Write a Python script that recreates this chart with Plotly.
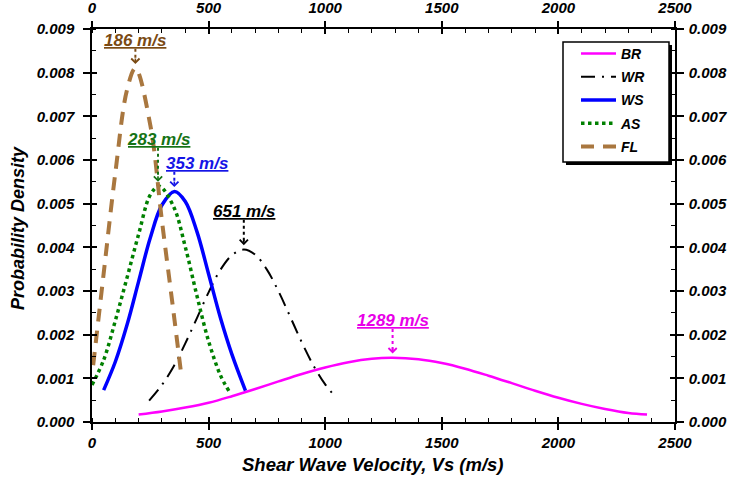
import plotly.graph_objects as go

# ---------------- data ----------------
br_x = [200, 300, 400, 500, 600, 700, 800, 900, 1000, 1100, 1200, 1289, 1400, 1500,
        1600, 1700, 1800, 1900, 2000, 2100, 2200, 2300, 2380]
br_y = [0.00017, 0.00024, 0.00033, 0.00044, 0.00059, 0.000755, 0.00093, 0.0011, 0.00125,
        0.00137, 0.001448, 0.00147, 0.001436, 0.00135, 0.00122, 0.00106, 0.00089, 0.000717,
        0.000556, 0.000415, 0.000298, 0.000206, 0.00017]

wr_x = [245, 300, 350, 400, 450, 500, 550, 600, 651, 700, 750, 800, 850, 900, 950, 1000, 1040]
wr_y = [0.00049, 0.00085, 0.00127, 0.0018, 0.00238, 0.00297, 0.00348, 0.00382, 0.00395,
        0.00383, 0.00349, 0.00299, 0.00241, 0.00182, 0.00129, 0.00086, 0.0006]

ws_x = [50, 100, 150, 200, 250, 300, 354, 400, 450, 500, 550, 600, 658]
ws_y = [0.00073, 0.00138, 0.00222, 0.00322, 0.00422, 0.00497, 0.00528, 0.00505, 0.00436,
        0.00339, 0.00240, 0.00155, 0.00072]

as_x = [0, 50, 100, 150, 200, 250, 288, 350, 400, 450, 500, 550, 587]
as_y = [0.00085, 0.00142, 0.00232, 0.0033, 0.0043, 0.0052, 0.0054, 0.00493, 0.00401,
        0.00289, 0.00185, 0.00108, 0.00071]

fl_x = [5, 20, 50, 100, 150, 186, 250, 300, 350, 380]
fl_y = [0.0013, 0.002, 0.0034, 0.0057, 0.0076, 0.0081, 0.0068, 0.0046, 0.0025, 0.0012]

series_names = ["BR", "WR", "WS", "AS", "FL"]
peak_values = [1289, 651, 353, 283, 186]           # m/s, as labelled
peak_labels = ["1289 m/s", "651 m/s", "353 m/s", "283 m/s", "186 m/s"]

x_ticks = [0, 500, 1000, 1500, 2000, 2500]
y_ticks = [0.000, 0.001, 0.002, 0.003, 0.004, 0.005, 0.006, 0.007, 0.008, 0.009]

# ---------------- styling / layout ----------------
W, H = 733, 481
L, R, T, B = 92, 675, 29, 422
FONT = "Arial, 'Liberation Sans', sans-serif"

def pxx(p):
    return (p - L) / (R - L)

def pxy(p):
    return (B - p) / (B - T)

line_styles = {
    "BR": dict(color="#FF00FF", width=2.5, dash="solid"),
    "WR": dict(color="#000000", width=2, dash="14px,7px,2px,7px"),
    "WS": dict(color="#0000FF", width=3.5, dash="solid"),
    "AS": dict(color="#008000", width=3.5, dash="dot"),
    "FL": dict(color="#A9773F", width=4, dash="13px,9px"),
}
label_colors = {"BR": "#E800E8", "WR": "#000000", "WS": "#1414E6",
                "AS": "#157315", "FL": "#7A4A14"}
# label underline height (data units) and horizontal placement
label_y = {"BR": 0.00213, "WR": 0.00463, "WS": 0.00573, "AS": 0.00628, "FL": 0.00855}
label_anchor = {"BR": ("center", 0), "WR": ("center", 0), "WS": ("left", -10),
                "AS": ("center", 0), "FL": ("center", 0)}

xs = {"BR": br_x, "WR": wr_x, "WS": ws_x, "AS": as_x, "FL": fl_x}
ys = {"BR": br_y, "WR": wr_y, "WS": ws_y, "AS": as_y, "FL": fl_y}

fig = go.Figure()
for i, name in enumerate(series_names):
    fig.add_trace(go.Scatter(
        x=xs[name], y=ys[name], mode="lines", name=name,
        line=dict(shape="spline", smoothing=1.0, **line_styles[name]),
        legendgroup=name,
    ))

# dummy trace to realise the top / right axes
fig.add_trace(go.Scatter(x=[None], y=[None], xaxis="x2", yaxis="y2",
                         showlegend=False, hoverinfo="skip"))

shapes = []
annotations = []
for name, pv, lab in zip(series_names, peak_values, peak_labels):
    peak_y = max(ys[name])
    tip = peak_y + 0.0001
    col = label_colors[name]
    shapes.append(dict(type="line", xref="x", yref="y", x0=pv, x1=pv,
                       y0=label_y[name], y1=tip + 0.00008,
                       line=dict(color=col, width=2, dash="dot")))
    annotations.append(dict(x=pv, y=tip, xref="x", yref="y", text="",
                            showarrow=True, ax=0, ay=-7, arrowhead=4,
                            arrowsize=1.0, arrowwidth=1.6, arrowcolor=col,
                            standoff=0))
    xa, xsh = label_anchor[name]
    annotations.append(dict(x=pv, y=label_y[name], xref="x", yref="y",
                            text=lab, showarrow=False, xanchor=xa, xshift=xsh,
                            yanchor="bottom", yshift=-3,
                            font=dict(family=FONT, size=17, color=col,
                                      weight="bold", style="italic",
                                      lineposition="under")))

# legend box with shadow
shapes.append(dict(type="rect", xref="paper", yref="paper", layer="below",
                   x0=pxx(566), x1=pxx(672), y0=pxy(165), y1=pxy(45),
                   fillcolor="black", line=dict(width=0)))
shapes.append(dict(type="rect", xref="paper", yref="paper", layer="below",
                   x0=pxx(563), x1=pxx(669), y0=pxy(162), y1=pxy(42),
                   fillcolor="white", line=dict(color="black", width=1.5)))

# axis titles
annotations.append(dict(x=pxx(373), y=pxy(464), xref="paper", yref="paper",
                        xanchor="center", yanchor="middle",
                        text="Shear Wave Velocity, Vs (m/s)", showarrow=False,
                        font=dict(family=FONT, size=18.5, color="black",
                                  weight="bold", style="italic")))
annotations.append(dict(x=pxx(18), y=pxy(228), xref="paper", yref="paper",
                        xanchor="center", yanchor="middle",
                        text="Probability Density", showarrow=False, textangle=-90,
                        font=dict(family=FONT, size=18, color="black",
                                  weight="bold", style="italic")))

tickfont = dict(family=FONT, size=15, color="black", weight="bold", style="italic")

fig.update_layout(
    width=W, height=H, autosize=False,
    margin=dict(l=L, r=W - R, t=T, b=H - B, autoexpand=False),
    paper_bgcolor="white", plot_bgcolor="white",
    showlegend=True,
    legend=dict(x=pxx(576), y=pxy(38), xanchor="left", yanchor="top",
                bgcolor="rgba(0,0,0,0)", borderwidth=0,
                font=dict(family=FONT, size=14, color="black",
                          weight="bold", style="italic"),
                traceorder="grouped", tracegroupgap=2, itemwidth=35),
    xaxis=dict(range=[0, 2500], tickvals=x_ticks, ticktext=[str(v) for v in x_ticks],
               showgrid=False, zeroline=False, showline=True, linecolor="black",
               linewidth=1.5, ticks="outside", ticklen=6, tickwidth=1.5,
               tickcolor="black", mirror="allticks", tickfont=tickfont,
               ticklabelstandoff=0,
               minor=dict(dtick=100, ticks="inside", ticklen=4, tickwidth=1.2,
                          tickcolor="black", showgrid=False)),
    xaxis2=dict(range=[0, 2500], overlaying="x", side="top", anchor="y2",
                tickvals=x_ticks, ticktext=[str(v) for v in x_ticks],
                showgrid=False, zeroline=False, showline=True, linecolor="black",
                linewidth=1.5, ticks="inside", ticklen=5, tickwidth=1.5,
                tickcolor="black", mirror="allticks", tickfont=tickfont,
                ticklabelstandoff=8),
    yaxis=dict(range=[0, 0.009], tickvals=y_ticks,
               ticktext=["%.3f" % v for v in y_ticks],
               showgrid=False, zeroline=False, showline=True, linecolor="black",
               linewidth=1.5, ticks="outside", ticklen=7, tickwidth=1.5,
               tickcolor="black", mirror="allticks", tickfont=tickfont,
               ticklabelstandoff=6,
               minor=dict(dtick=0.0005, ticks="inside", ticklen=4, tickwidth=1.2,
                          tickcolor="black", showgrid=False)),
    yaxis2=dict(range=[0, 0.009], overlaying="y", side="right", anchor="x2",
                tickvals=y_ticks, ticktext=["%.3f" % v for v in y_ticks],
                showgrid=False, zeroline=False, showline=True, linecolor="black",
                linewidth=1.5, ticks="inside", ticklen=5, tickwidth=1.5,
                tickcolor="black", mirror="allticks", tickfont=tickfont,
                ticklabelstandoff=9),
    shapes=shapes,
    annotations=annotations,
)

fig.write_html("out.html", config={"displayModeBar": False},
               post_script="document.body.style.margin='0px';")
